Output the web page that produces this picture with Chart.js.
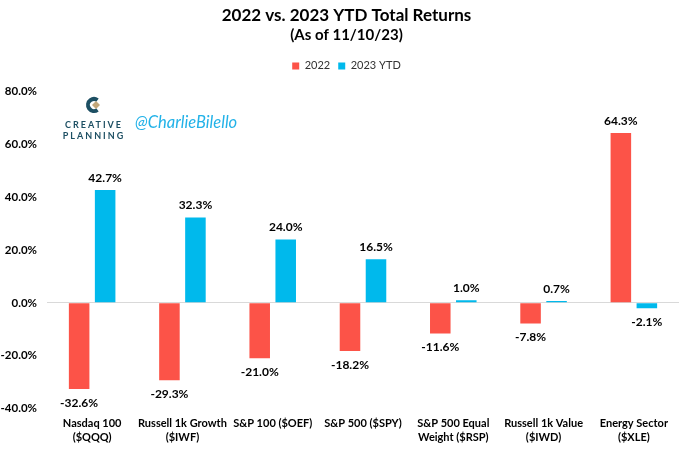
<!DOCTYPE html>
<html>
<head>
<meta charset="utf-8">
<script src="https://cdn.jsdelivr.net/npm/chart.js@4/dist/chart.umd.min.js"></script>
<style>
  html, body { margin: 0; padding: 0; background: #fff; }
  #wrap { width: 680px; height: 450px; }
</style>
</head>
<body>
<div id="wrap"><canvas id="returnsChart"></canvas></div>
<script>
const categories = [
    ['Nasdaq 100', '($QQQ)'],
    ['Russell 1k Growth', '($IWF)'],
    'S&P 100 ($OEF)',
    'S&P 500 ($SPY)',
    ['S&P 500 Equal', 'Weight ($RSP)'],
    ['Russell 1k Value', '($IWD)'],
    ['Energy Sector', '($XLE)']
];
const returns2022 = [-32.6, -29.3, -21.0, -18.2, -11.6, -7.8, 64.3];
const returns2023 = [42.7, 32.3, 24.0, 16.5, 1.0, 0.7, -2.1];
const yTicks = [-40, -20, 0, 20, 40, 60, 80];

const FONT = 'Lato, "Open Sans", sans-serif';

// labels on the end of each bar
const valueLabels = {
    id: 'valueLabels',
    afterDatasetsDraw(chart) {
        const ctx = chart.ctx;
        ctx.save();
        ctx.font = 'bold 12px ' + FONT;
        ctx.fillStyle = '#000';
        ctx.textAlign = 'center';
        chart.data.datasets.forEach((ds, i) => {
            chart.getDatasetMeta(i).data.forEach((bar, j) => {
                const v = ds.data[j];
                const txt = v.toFixed(1) + '%';
                if (v >= 0) {
                    ctx.textBaseline = 'bottom';
                    ctx.fillText(txt, bar.x, bar.y - 6);
                } else {
                    ctx.textBaseline = 'top';
                    ctx.fillText(txt, bar.x, bar.y + 8);
                }
            });
        });
        ctx.restore();
    }
};

// extra room under the legend
const legendGap = {
    id: 'legendGap',
    beforeInit(chart) {
        const fit = chart.legend.fit;
        chart.legend.fit = function () {
            fit.bind(chart.legend)();
            this.height += 10;
        };
    }
};

const logo = {
    id: 'logo',
    afterDraw(chart) {
        const ctx = chart.ctx;
        ctx.save();
        ctx.strokeStyle = '#1d4f63';
        ctx.lineWidth = 4;
        ctx.beginPath();
        ctx.arc(94, 105, 6, 0.3 * Math.PI, 1.7 * Math.PI);
        ctx.stroke();
        ctx.fillStyle = '#c3a77a';
        ctx.beginPath();
        ctx.moveTo(96, 101);
        ctx.lineTo(100, 105);
        ctx.lineTo(96, 109);
        ctx.lineTo(92, 105);
        ctx.closePath();
        ctx.fill();
        ctx.fillStyle = '#1d4f63';
        ctx.font = 'bold 9px ' + FONT;
        ctx.textAlign = 'center';
        ctx.textBaseline = 'middle';
        ctx.letterSpacing = '2px';
        ctx.fillText('CREATIVE', 94, 125);
        ctx.fillText('PLANNING', 94, 136);
        ctx.letterSpacing = '0px';
        ctx.fillStyle = '#22b2e8';
        ctx.font = 'italic 16.5px ' + FONT;
        ctx.textAlign = 'left';
        ctx.fillText('@CharlieBilello', 135, 123);
        ctx.restore();
    }
};

new Chart(document.getElementById('returnsChart'), {
    type: 'bar',
    data: {
        labels: categories,
        datasets: [{
            label: '2022',
            data: returns2022,
            backgroundColor: '#fc5348',
            categoryPercentage: 0.576,
            barPercentage: 0.79
        }, {
            label: '2023 YTD',
            data: returns2023,
            backgroundColor: '#00b9ec',
            categoryPercentage: 0.576,
            barPercentage: 0.79
        }]
    },
    options: {
        responsive: true,
        maintainAspectRatio: false,
        animation: false,
        layout: { padding: { left: 14, right: 1, top: 4, bottom: 6 } },
        plugins: {
            title: {
                display: true,
                text: '2022 vs. 2023 YTD Total Returns',
                color: '#000',
                font: { family: FONT, size: 17, weight: 'bold' },
                padding: { top: 1, bottom: 1 }
            },
            subtitle: {
                display: true,
                text: '(As of 11/10/23)',
                color: '#000',
                font: { family: FONT, size: 15, weight: 'bold' },
                padding: { top: 0, bottom: 8 }
            },
            legend: {
                position: 'top',
                labels: {
                    boxWidth: 7,
                    boxHeight: 7,
                    color: '#333',
                    padding: 8,
                    font: { family: FONT, size: 11 }
                }
            },
            tooltip: { enabled: false }
        },
        scales: {
            x: {
                grid: { display: false },
                border: { display: false },
                ticks: {
                    color: '#000',
                    maxRotation: 0,
                    autoSkip: false,
                    padding: 0,
                    font: { family: FONT, size: 11, weight: 'bold', lineHeight: 1.25 }
                }
            },
            y: {
                min: -40,
                max: 80,
                afterFit(scale) {
                    scale.width = 33;
                    // let the tick labels run past the axis box
                    scale._computeLabelArea = () => undefined;
                },
                afterBuildTicks(scale) { scale.ticks = yTicks.map(v => ({ value: v })); },
                border: { display: false },
                grid: {
                    drawTicks: false,
                    color: ctx => ctx.tick && ctx.tick.value === 0 ? '#d9d9d9' : 'transparent'
                },
                ticks: {
                    color: '#000',
                    padding: 10,
                    font: { family: FONT, size: 11.5, weight: 'bold' },
                    callback: v => v.toFixed(1) + '%'
                }
            }
        }
    },
    plugins: [valueLabels, legendGap, logo]
});
</script>
</body>
</html>
